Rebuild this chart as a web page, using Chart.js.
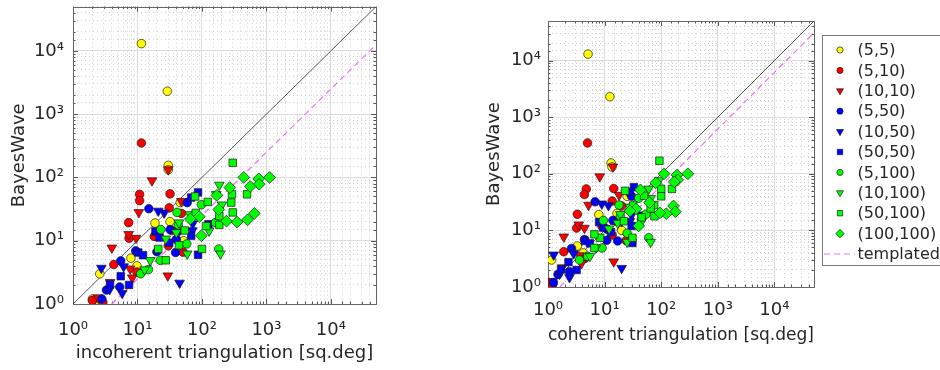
<!DOCTYPE html>
<html>
<head>
<meta charset="utf-8">
<script src="https://cdn.jsdelivr.net/npm/chart.js@4/dist/chart.umd.min.js"></script>
<style>
  html, body { margin: 0; padding: 0; background: #fff; }
  #wrap { position: relative; width: 940px; height: 370px; overflow: hidden; }
  canvas { position: absolute; top: 0; }
</style>
</head>
<body>
<div id="wrap">
  <canvas id="left" width="400" height="370" style="left:0"></canvas>
  <canvas id="right" width="470" height="370" style="left:470px"></canvas>
</div>
<script>
// series names as in the legend
const seriesLabels = ['(5,5)', '(5,10)', '(10,10)', '(5,50)', '(10,50)', '(50,50)', '(5,100)', '(10,100)', '(50,100)', '(100,100)'];
const tickLabels = ['10\u2070', '10\u00b9', '10\u00b2', '10\u00b3', '10\u2074'];

// BayesWave area (y), incoherent (left x) and coherent (right x) triangulation, sq.deg
const bw_5_5  = [13000, 2300, 155, 132, 40, 19, 20, 10, 5.3, 4, 3, 1.2, 1.0];
const inc_5_5 = [11.5, 29, 30, 30, 46, 18.7, 32, 52, 7.9, 9.8, 2.6, 2.0, 2.6];
const coh_5_5 = [5.1, 12.4, 13, 13.5, 25, 7.9, 16.6, 20, 3.3, 4.2, 1.16, 1.05, 1.1];

const bw_5_10  = [350, 54, 43, 55, 33, 27, 19.3, 11, 11.7, 14.5, 4.2, 3.2, 1.14, 1.07, 6.6, 8.3];
const inc_5_10 = [11.5, 10.8, 10.8, 32, 31, 48, 7.3, 7.4, 18.2, 34, 4.3, 9.8, 2.0, 2.9, 51, 30];
const coh_5_10 = [5, 4.75, 4.4, 14.5, 13.6, 20, 3.3, 3.2, 9, 16, 1.9, 4.5, 1.0, 1.2, 24, 13.6];

const bw_10_10  = [89, 133, 28, 12.6, 11, 7.7, 3.6, 2.6, 2.2, 2.8, 42, 1.26];
const inc_10_10 = [16.8, 30, 10.5, 7.3, 9.5, 4.0, 7.7, 8.3, 3.75, 29.5, 48, 2.45];
const coh_10_10 = [8.2, 14, 5.2, 3.5, 4.4, 1.9, 3.6, 3.9, 1.77, 14.5, 18, 1.2];

const bw_5_50  = [32, 40, 4.8, 1.86, 6.9, 15, 10.5, 6.5, 1.2, 1.66, 6.7];
const inc_5_50 = [15, 59, 5.5, 5.3, 9.4, 32, 40, 39, 2.8, 3.3, 20];
const coh_5_50 = [6.8, 30, 2.6, 2.4, 4.4, 14, 11, 17, 1.25, 1.5, 10.9];

const bw_10_50  = [27.5, 3.7, 3.9, 2.15, 18.6, 1.7, 1.48, 14.5, 14.5, 29.5];
const inc_10_50 = [26, 2.75, 6.1, 45, 72, 3.7, 5.8, 71, 45, 21];
const coh_10_50 = [11.7, 1.26, 2.84, 20, 30, 1.6, 2.4, 28, 20, 8.9];

const bw_50_50  = [58, 48, 14, 6.5, 2.0, 2.75, 2.04, 6.0, 18.2, 12, 9.3, 5.9, 11.2];
const inc_50_50 = [87, 68, 19, 10.3, 7.4, 5.5, 3.75, 87, 126, 68, 31, 12.2, 22];
const coh_50_50 = [33, 28, 8, 4.5, 3.2, 2.3, 1.7, 31, 45, 30, 13, 5.5, 9.5];

const bw_5_100  = [37, 7.4, 28, 15, 4.9, 3.0, 3.5, 8.9, 19.3, 17.8];
const inc_5_100 = [98, 182, 41, 23, 22.6, 11.2, 14.8, 58, 162, 43];
const coh_5_100 = [40, 60, 18, 9.5, 9, 3.6, 5, 25, 54, 19];

const bw_10_100  = [76, 54, 37, 14.3, 6.2, 26, 19.3, 10.7, 3.5, 4.9, 6.2, 13.5];
const inc_10_100 = [186, 166, 204, 129, 193, 65, 44, 27.5, 12.9, 15.8, 59, 40];
const coh_10_100 = [91, 60, 65, 45, 65, 28, 19, 12, 5.5, 7, 25, 17];

const bw_50_100  = [170, 50, 41, 54, 54, 28, 17.8, 7.4, 4.9, 7.4, 17, 24.5, 40, 8.5, 14.5, 27.5];
const inc_50_100 = [300, 78, 123, 292, 500, 300, 186, 100, 27.5, 21, 117, 186, 285, 44, 54, 80];
const coh_50_100 = [93, 23, 50, 155, 100, 75, 76, 31, 6.6, 8.3, 45, 65, 100, 6.6, 22, 32];

const bw_100_100  = [100, 95, 100, 78, 72, 69, 27, 21.4, 19.7, 20.4, 52, 12, 31, 24, 22];
const inc_100_100 = [445, 760, 1120, 770, 560, 270, 650, 510, 350, 240, 170, 98, 182, 91, 66];
const coh_100_100 = [112, 190, 295, 195, 170, 80, 165, 178, 123, 95, 43, 40, 62, 36, 28];

// y = x line and the templated fit lines (x, y pairs)
const diagX = [1, 50000], diagY = [1, 50000];
const templIncX = [4, 50000], templIncY = [1, 12500];
const templCohX = [1.62, 50000], templCohY = [1, 30900];

const bwAll  = [bw_5_5, bw_5_10, bw_10_10, bw_5_50, bw_10_50, bw_50_50, bw_5_100, bw_10_100, bw_50_100, bw_100_100];
const incAll = [inc_5_5, inc_5_10, inc_10_10, inc_5_50, inc_10_50, inc_50_50, inc_5_100, inc_10_100, inc_50_100, inc_100_100];
const cohAll = [coh_5_5, coh_5_10, coh_10_10, coh_5_50, coh_10_50, coh_50_50, coh_5_100, coh_10_100, coh_50_100, coh_100_100];

const colors = ['#ffff00', '#ff0000', '#ff0000', '#0000ff', '#0000ff', '#0000ff', '#00ff00', '#00ff00', '#00ff00', '#00ff00'];
const shapes = ['circle', 'circle', 'triangle', 'circle', 'triangle', 'rect', 'circle', 'triangle', 'rect', 'rectRot'];
const radius = { circle: 4.3, triangle: 5.6, rect: 5.3, rectRot: 5.9 };

Chart.defaults.font.family = "'DejaVu Sans', sans-serif";
Chart.defaults.font.size = 18;
Chart.defaults.color = '#262626';

const isPow10 = v => Math.abs(Math.log10(v) - Math.round(Math.log10(v))) < 1e-9;
const toPts = (xs, ys) => xs.map((x, i) => ({ x: x, y: ys[i] }));

function makeDatasets(xAll, tX, tY) {
  const sets = seriesLabels.map((lab, i) => ({
    label: lab,
    data: toPts(xAll[i], bwAll[i]),
    pointStyle: shapes[i],
    pointRotation: shapes[i] === 'triangle' ? 180 : 0,
    pointRadius: radius[shapes[i]],
    pointHoverRadius: radius[shapes[i]],
    backgroundColor: colors[i],
    borderColor: '#1a1a1a',
    pointBorderWidth: 0.7,
    order: 20 - i
  }));
  sets.push({
    label: 'templated', data: toPts(tX, tY), showLine: true, pointRadius: 0,
    borderColor: '#f46cf4', borderWidth: 1.2, borderDash: [6, 4], order: 40
  });
  sets.push({
    label: '', data: toPts(diagX, diagY), showLine: true, pointRadius: 0,
    borderColor: '#444', borderWidth: 0.9, order: 50
  });
  return sets;
}

function axis(title, fitSize, isX, tickPad, titlePad) {
  return {
    type: 'logarithmic', min: 1, max: 50000,
    afterFit: s => {
      if (isX) s.height = fitSize; else s.width = fitSize;
      s.paddingLeft = s.paddingRight = s.paddingTop = s.paddingBottom = 0;
    },
    // dash here styles the grid lines (dotted minor lines)
    border: {
      display: false,
      dash: c => (c.tick && isPow10(c.tick.value)) ? [] : [1, 3]
    },
    grid: {
      drawTicks: false,
      lineWidth: 1,
      color: c => (c.tick && isPow10(c.tick.value)) ? '#dcdcdc' : '#d2d2d2'
    },
    ticks: {
      autoSkip: false, maxRotation: 0, minRotation: 0, padding: tickPad,
      color: '#262626', font: { size: 18 },
      callback: v => (isPow10(v) && v <= 10000) ? tickLabels[Math.round(Math.log10(v))] : ''
    },
    title: { display: true, text: title, color: '#262626', font: { size: 18 }, padding: titlePad }
  };
}

// box around the axes with small inward tick marks
const framePlugin = {
  id: 'frame',
  beforeDatasetsDraw(chart) {
    const { ctx, chartArea: a, scales } = chart;
    ctx.save();
    ctx.strokeStyle = '#555';
    ctx.lineWidth = 1;
    ctx.beginPath();
    scales.x.ticks.forEach(t => {
      const px = Math.round(scales.x.getPixelForValue(t.value)) + 0.5;
      const len = isPow10(t.value) ? 5 : 2.5;
      ctx.moveTo(px, a.bottom); ctx.lineTo(px, a.bottom - len);
      ctx.moveTo(px, a.top); ctx.lineTo(px, a.top + len);
    });
    scales.y.ticks.forEach(t => {
      const py = Math.round(scales.y.getPixelForValue(t.value)) + 0.5;
      const len = isPow10(t.value) ? 5 : 2.5;
      ctx.moveTo(a.left, py); ctx.lineTo(a.left + len, py);
      ctx.moveTo(a.right, py); ctx.lineTo(a.right - len, py);
    });
    ctx.stroke();
    ctx.strokeStyle = '#666';
    ctx.strokeRect(Math.round(a.left) + 0.5, Math.round(a.top) + 0.5, Math.round(a.right - a.left), Math.round(a.bottom - a.top));
    ctx.restore();
  }
};

// legend box on the right of the coherent panel
const boxLegend = {
  id: 'boxLegend',
  afterDraw(chart) {
    const { ctx, chartArea: a } = chart;
    const sets = chart.data.datasets.filter(d => d.label);
    const x0 = a.right + 8, y0 = a.top + 14;
    ctx.save();
    ctx.fillStyle = '#fff';
    ctx.fillRect(x0, y0, 140, 230);
    ctx.strokeStyle = '#7a7a7a';
    ctx.lineWidth = 1;
    ctx.strokeRect(x0 + 0.5, y0 + 0.5, 140, 230);
    ctx.font = "16px 'DejaVu Sans', sans-serif";
    ctx.textBaseline = 'middle';
    sets.forEach((d, i) => {
      const y = y0 + 15 + i * 20.4;
      if (d.showLine) {
        ctx.strokeStyle = d.borderColor;
        ctx.lineWidth = 1.2;
        ctx.setLineDash([6, 4]);
        ctx.beginPath(); ctx.moveTo(x0 + 2, y); ctx.lineTo(x0 + 33, y); ctx.stroke();
        ctx.setLineDash([]);
      } else {
        ctx.fillStyle = d.backgroundColor;
        ctx.strokeStyle = '#1a1a1a';
        ctx.lineWidth = 0.7;
        Chart.helpers.drawPoint(ctx, {
          pointStyle: d.pointStyle, rotation: d.pointRotation,
          radius: d.pointRadius * 0.72, borderWidth: 0.7
        }, x0 + 18, y);
      }
      ctx.fillStyle = '#262626';
      ctx.fillText(d.label, x0 + 35.5, y + 1);
    });
    ctx.restore();
  }
};

function makeChart(id, xAll, tX, tY, xTitle, opts, plugins) {
  return new Chart(document.getElementById(id), {
    type: 'scatter',
    data: { datasets: makeDatasets(xAll, tX, tY) },
    options: {
      responsive: false,
      animation: false,
      events: [],
      layout: { padding: opts.padding },
      plugins: { legend: { display: false }, tooltip: { enabled: false } },
      scales: {
        x: axis(xTitle, opts.xHeight, true, opts.xTickPad, { top: 0, bottom: opts.xTitlePad }),
        y: axis('BayesWave', opts.yWidth, false, opts.yTickPad, { top: opts.yTitlePad, bottom: 0 })
      }
    },
    plugins: plugins
  });
}

makeChart('left', incAll, templIncX, templIncY, 'incoherent triangulation [sq.deg]',
  { padding: { top: 2, right: 24, bottom: 0, left: 0 }, xHeight: 66, yWidth: 73, xTickPad: 16, yTickPad: 9, xTitlePad: 6, yTitlePad: 9 },
  [framePlugin]);

makeChart('right', cohAll, templCohX, templCohY, 'coherent triangulation [sq.deg]',
  { padding: { top: 21, right: 126, bottom: 0, left: 0 }, xHeight: 83, yWidth: 78, xTickPad: 13, yTickPad: 7, xTitlePad: 24, yTitlePad: 14 },
  [framePlugin, boxLegend]);
</script>
</body>
</html>
